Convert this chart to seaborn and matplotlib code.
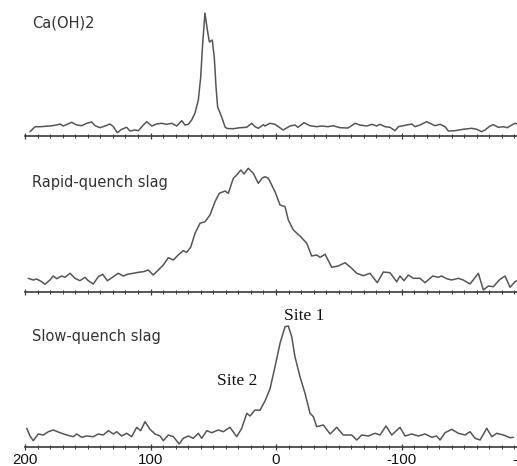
import matplotlib
matplotlib.use("Agg")
import matplotlib.pyplot as plt
import seaborn as sns
import pandas as pd
from matplotlib.ticker import MultipleLocator, FixedLocator

# ---------------- data (chemical shift in ppm, intensity in arbitrary units) ----------------
caoh2_ppm = [196.0, 192.0, 188.0, 180.1, 174.7, 172.1, 169.5, 162.8, 158.8, 154.8, 150.8, 146.9,
             144.2, 140.2, 136.3, 132.3, 129.6, 126.5, 123.0, 119.0, 116.3, 112.3, 109.7, 105.7,
             103.0, 99.0, 95.1, 91.1, 87.1, 83.1, 79.1, 75.1, 72.5, 69.9, 67.2, 64.5, 61.9, 60.0,
             58.4, 56.6, 54.7, 53.1, 50.8, 49.2, 47.8, 46.5, 43.3, 40.6, 39.0, 34.0, 28.7, 23.4,
             19.4, 16.7, 14.1, 10.1, 8.8, 4.8, 0.8, -5.6, -11.2, -15.1, -17.5, -22.3, -27.1,
             -32.4, -36.4, -41.4, -45.4, -51.0, -57.4, -63.0, -66.9, -72.3, -76.3, -80.2, -82.9,
             -86.9, -90.8, -94.8, -97.5, -100.2, -104.1, -108.1, -110.8, -114.7, -120.1, -122.7,
             -126.7, -130.7, -134.7, -137.3, -142.6, -149.0, -155.9, -159.9, -163.9, -166.5,
             -170.5, -173.1, -177.1, -181.1, -184.3, -187.8, -190.4, -195.0]
caoh2_int = [4.3, 9.3, 9.3, 10.0, 11.0, 12.0, 10.0, 13.7, 11.0, 10.3, 12.7, 14.0,
             10.3, 8.3, 10.0, 12.0, 9.3, 3.3, 6.7, 8.7, 5.0, 6.0, 5.3, 11.0,
             14.3, 10.0, 12.0, 12.7, 11.7, 12.7, 10.0, 15.3, 11.0, 11.7, 16.0, 23.0, 36.0, 59.0,
             93.0, 123.0, 106.0, 94.0, 96.0, 79.0, 49.0, 29.0, 19.0, 9.0, 7.5, 7.3, 8.3, 8.7,
             12.7, 9.3, 7.7, 11.3, 10.0, 12.7, 11.7, 6.0, 10.0, 11.0, 8.7, 13.3, 10.3,
             9.3, 10.0, 9.3, 10.3, 8.3, 8.0, 12.7, 11.0, 10.0, 11.7, 10.0, 11.7,
             9.3, 8.7, 5.3, 9.3, 10.0, 11.0, 12.0, 9.3, 11.0, 14.3, 12.7,
             10.3, 11.7, 9.3, 5.0, 5.3, 6.7, 7.7, 6.7, 4.3, 6.0,
             10.0, 11.3, 8.7, 9.3, 8.3, 11.0, 12.7, 11.0]

rapid_ppm = [197.4, 193.4, 190.7, 186.7, 184.1, 180.1, 177.5, 174.7, 170.8, 168.1, 164.1, 160.2,
             156.2, 152.2, 149.6, 145.6, 141.6, 138.1, 134.4, 129.6, 125.7, 121.7, 117.7, 113.7,
             109.7, 105.7, 101.8, 97.8, 93.8, 89.8, 85.8, 81.8, 77.9, 73.9, 71.2, 68.0, 64.5,
             60.6, 56.6, 52.6, 48.6, 45.2, 40.6, 38.0, 34.0, 31.3, 28.1, 25.5, 22.1, 18.1, 14.1,
             10.9, 8.8, 6.1, 0.8, -3.2, -7.2, -9.8, -13.8, -19.1, -24.5, -28.4, -32.4, -35.1,
             -39.1, -44.4, -49.6, -55.0, -60.3, -64.3, -69.6, -74.9, -80.7, -85.5, -90.8, -96.2,
             -98.8, -102.0, -105.4, -109.4, -114.7, -118.7, -124.9, -129.3, -132.0, -136.0,
             -140.0, -145.3, -149.2, -154.6, -161.2, -165.2, -169.2, -173.1, -178.5, -182.5,
             -186.5, -190.4, -194.0]
rapid_int = [13.7, 12.0, 13.0, 10.3, 7.7, 12.0, 16.0, 13.3, 16.0, 14.7, 18.7, 13.7,
             11.3, 14.7, 11.3, 8.0, 15.3, 17.7, 11.3, 15.3, 18.7, 16.0, 18.0, 18.7,
             19.7, 20.3, 22.0, 17.0, 22.0, 27.0, 34.3, 32.0, 37.0, 41.3, 39.7, 44.7, 58.7,
             68.7, 70.3, 77.0, 90.3, 98.7, 101.0, 98.7, 113.7, 117.0, 122.0, 118.0, 123.7, 118.7, 108.7,
             114.0, 115.3, 113.7, 100.3, 87.0, 85.3, 72.0, 62.0, 56.0, 48.7, 36.0, 37.0, 34.7,
             37.7, 24.7, 26.0, 29.3, 23.7, 18.7, 16.3, 18.7, 9.3, 20.0, 19.3, 10.3,
             16.0, 11.3, 17.0, 13.7, 13.7, 9.3, 16.0, 14.7, 16.0, 13.3,
             12.0, 13.7, 12.0, 8.0, 18.7, 2.0, 6.0, 5.3, 12.7, 16.0,
             4.7, 10.3, 12.0]

slow_ppm = [198.6, 196.0, 193.4, 189.4, 185.4, 181.4, 177.5, 172.1, 166.8, 161.5, 158.8, 154.8,
            150.8, 145.6, 141.6, 137.6, 133.6, 129.6, 126.9, 123.0, 119.0, 115.0, 111.0, 107.8,
            104.4, 100.4, 96.4, 92.4, 89.8, 85.8, 81.8, 77.1, 73.9, 69.9, 65.9, 61.9, 59.2, 55.2,
            51.2, 46.0, 42.0, 36.7, 31.3, 27.3, 23.3, 20.7, 16.7, 12.8, 8.8, 4.8, 0.8, -3.2,
            -7.2, -9.8, -12.5, -15.1, -19.1, -23.1, -27.1, -29.8, -32.4, -37.7, -43.1, -48.4,
            -53.6, -60.3, -64.3, -68.3, -73.5, -78.9, -82.9, -87.6, -92.2, -98.8, -102.8, -108.1,
            -113.4, -118.7, -124.1, -128.0, -130.7, -134.7, -140.0, -145.3, -150.6, -154.6,
            -158.6, -162.6, -167.9, -171.9, -175.9, -181.1, -186.5, -189.1]
slow_int = [18.7, 11.0, 6.3, 13.0, 12.0, 15.3, 17.0, 14.3, 12.0, 10.3, 13.0, 9.7,
            11.0, 10.3, 13.0, 12.0, 16.3, 13.0, 15.3, 11.0, 13.7, 10.3, 19.7, 16.3,
            25.3, 17.7, 13.0, 11.0, 6.3, 12.0, 10.3, 3.0, 8.7, 11.0, 8.7, 13.7, 8.7, 16.3,
            14.3, 17.0, 15.3, 19.7, 10.3, 18.7, 33.7, 31.0, 37.0, 36.7, 46.0, 58.0, 80.3, 103.7,
            120.3, 121.0, 110.3, 90.3, 70.3, 53.7, 33.7, 30.3, 20.3, 22.0, 13.0, 19.7,
            12.0, 12.0, 7.0, 12.0, 11.0, 13.7, 12.0, 21.0, 12.0, 19.7, 11.0, 13.0,
            11.0, 13.0, 9.7, 11.0, 7.0, 14.3, 17.7, 13.7, 12.0, 15.3,
            8.7, 7.0, 18.7, 10.3, 13.7, 12.0, 9.3, 9.7]

panel_labels = ["Ca(OH)2", "Rapid-quench slag", "Slow-quench slag"]
tick_values = [200, 100, 0, -100, -200]
tick_labels = ["200", "100", "0", "-100", "-200"]
site_labels = [("Site 1", -22.3, 131.0), ("Site 2", 31.1, 66.0)]

# ---------------- layout ----------------
sns.set_theme(style="white")
plt.rcParams['font.family'] = ['DejaVu Sans']

W, H = 517, 466
fig = plt.figure(figsize=(W / 100, H / 100), dpi=100)
fig.patch.set_facecolor("white")

line_color = "#555555"
axis_color = "#3a3a3a"

panels = [
    (136, caoh2_ppm, caoh2_int, panel_labels[0], 113.0),
    (292, rapid_ppm, rapid_int, panel_labels[1], 110.0),
    (447, slow_ppm, slow_int, panel_labels[2], 110.0),
]

for i, (bottom_px, xs, ys, label, label_y) in enumerate(panels):
    ax = fig.add_axes([25 / W, (H - bottom_px) / H, 508.3 / W, 131 / H])
    ax.set_facecolor("none")
    df = pd.DataFrame({"ppm": xs, "intensity": ys})
    sns.lineplot(data=df, x="ppm", y="intensity", ax=ax, color=line_color,
                 linewidth=1.1, errorbar=None, clip_on=False)
    ax.set_xlim(200, -205)
    ax.set_ylim(0, 131)
    for s in ("left", "right", "top"):
        ax.spines[s].set_visible(False)
    ax.spines["bottom"].set_color(axis_color)
    ax.spines["bottom"].set_linewidth(1.2)
    ax.set_xlabel("")
    ax.set_ylabel("")
    ax.set_yticks([])
    ax.xaxis.set_major_locator(FixedLocator(tick_values))
    ax.xaxis.set_minor_locator(MultipleLocator(10))
    ax.tick_params(axis="x", which="major", direction="inout", length=5, width=0.9,
                   color=axis_color, bottom=True, pad=2)
    ax.tick_params(axis="x", which="minor", direction="inout", length=3, width=0.7,
                   color=axis_color, bottom=True)
    if i == 2:
        ax.set_xticklabels(tick_labels, fontsize=10.8, family=["Liberation Sans"], color="#111111")
    else:
        ax.set_xticklabels([])
    ax.text(194.5, label_y, label, fontsize=10.5, color="#333333", ha="left", va="center")
    if i == 2:
        for txt, sx, sy in site_labels:
            ax.text(sx, sy, txt, fontsize=12.5, family=["Liberation Serif"], color="#111111",
                    ha="center", va="center")

fig.savefig("out.png", dpi=100)
